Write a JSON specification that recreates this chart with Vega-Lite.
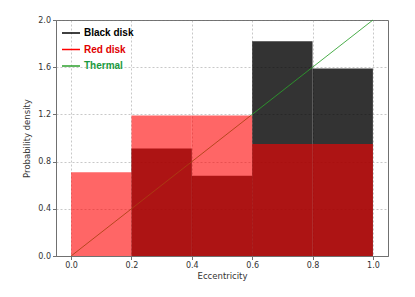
{
  "$schema": "https://vega.github.io/schema/vega-lite/v6.json",
  "autosize": "none",
  "width": 332,
  "height": 236,
  "padding": {"left": 56, "top": 20, "right": 27, "bottom": 41},
  "background": "white",
  "config": {
    "font": "DejaVu Sans",
    "view": {"stroke": "#707070", "strokeWidth": 1},
    "axis": {
      "zindex": 1,
      "grid": true,
      "gridColor": "#808080",
      "gridOpacity": 0.55,
      "gridDash": [2, 2],
      "gridWidth": 0.8,
      "domainColor": "#707070",
      "tickColor": "#707070",
      "tickSize": 3.5,
      "labelFont": "DejaVu Sans",
      "labelFontSize": 8,
      "labelColor": "#333333",
      "titleFont": "DejaVu Sans",
      "titleFontSize": 8.5,
      "titleFontWeight": "normal",
      "titleColor": "#333333"
    }
  },
  "datasets": {
    "black": [
      {"x0": 0.0, "x1": 0.2, "density": 0.0},
      {"x0": 0.2, "x1": 0.4, "density": 0.91},
      {"x0": 0.4, "x1": 0.6, "density": 0.68},
      {"x0": 0.6, "x1": 0.8, "density": 1.82},
      {"x0": 0.8, "x1": 1.0, "density": 1.59}
    ],
    "red": [
      {"x0": 0.0, "x1": 0.2, "density": 0.71},
      {"x0": 0.2, "x1": 0.4, "density": 1.19},
      {"x0": 0.4, "x1": 0.6, "density": 1.19},
      {"x0": 0.6, "x1": 0.8, "density": 0.95},
      {"x0": 0.8, "x1": 1.0, "density": 0.95}
    ],
    "thermal": [
      {"e": 0.0, "density": 0.0, "series": "Thermal"},
      {"e": 1.0, "density": 2.0, "series": "Thermal"}
    ]
  },
  "layer": [
    {
      "data": {"name": "black"},
      "mark": {"type": "bar", "color": "#000000", "opacity": 0.8},
      "encoding": {
        "x": {
          "field": "x0", "type": "quantitative",
          "scale": {"domain": [-0.05, 1.05], "nice": false, "zero": false},
          "axis": {"title": "Eccentricity", "values": [0, 0.2, 0.4, 0.6, 0.8, 1.0], "format": ".1f", "labelPadding": 2, "titlePadding": 2}
        },
        "x2": {"field": "x1"},
        "y": {
          "field": "density", "type": "quantitative",
          "scale": {"domain": [0, 2], "nice": false},
          "axis": {"title": "Probability density", "values": [0, 0.4, 0.8, 1.2, 1.6, 2.0], "format": ".1f", "labelPadding": 2, "titlePadding": 6}
        },
        "y2": {"datum": 0}
      }
    },
    {
      "data": {"name": "thermal"},
      "mark": {"type": "line", "strokeWidth": 1, "opacity": 0.85},
      "encoding": {
        "x": {"field": "e", "type": "quantitative"},
        "y": {"field": "density", "type": "quantitative"},
        "color": {
          "field": "series", "type": "nominal",
          "scale": {"domain": ["Black disk", "Red disk", "Thermal"], "range": ["#000000", "#ff0000", "#2ca02c"]},
          "legend": {
            "title": null,
            "orient": "none",
            "legendX": 5,
            "legendY": 3,
            "symbolType": "stroke",
            "symbolSize": 324,
            "symbolStrokeWidth": 1.5,
            "symbolOpacity": 1,
            "labelFont": "Liberation Sans",
            "labelFontWeight": "bold",
            "labelFontSize": 10,
            "labelOffset": 3,
            "rowPadding": 1.5,
            "labelColor": {"expr": "datum.value === 'Black disk' ? '#000000' : datum.value === 'Red disk' ? '#e00000' : '#1a9a40'"}
          }
        }
      }
    },
    {
      "data": {"name": "red"},
      "mark": {"type": "bar", "color": "#ff0000", "opacity": 0.6},
      "encoding": {
        "x": {"field": "x0", "type": "quantitative"},
        "x2": {"field": "x1"},
        "y": {"field": "density", "type": "quantitative"},
        "y2": {"datum": 0}
      }
    }
  ]
}
